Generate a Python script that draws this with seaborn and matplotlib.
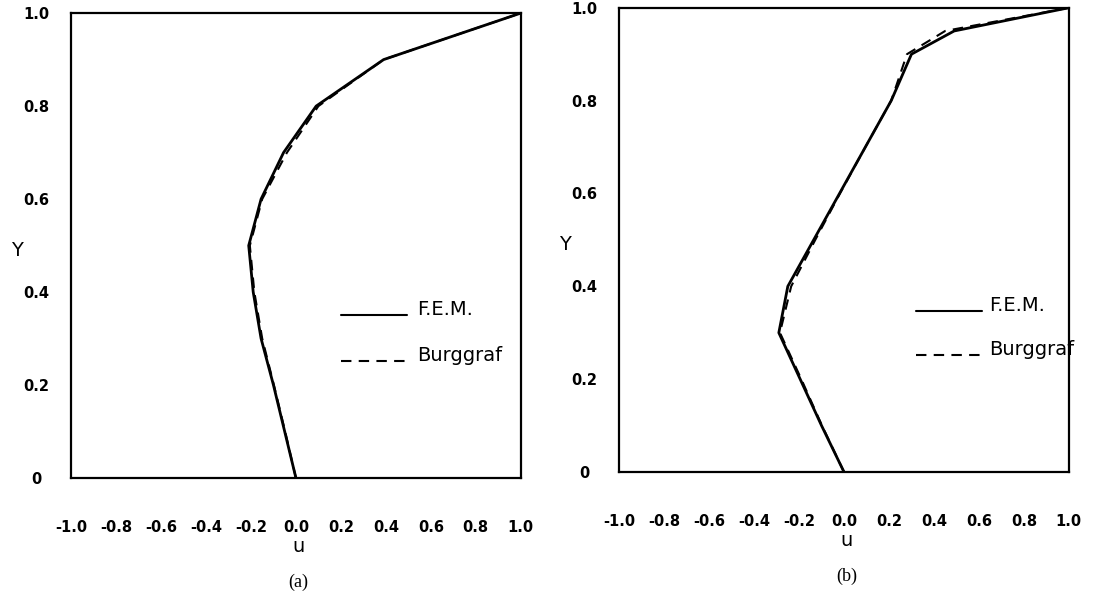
import matplotlib
matplotlib.use("Agg")
import matplotlib.pyplot as plt
import numpy as np
import pandas as pd
import seaborn as sns

# Centreline u-velocity profiles of the driven cavity
y_a = [0.0, 0.1, 0.2, 0.3, 0.4, 0.5, 0.6, 0.7, 0.8, 0.9, 1.0]
fem_a = [0.0, -0.05, -0.10, -0.155, -0.19, -0.21, -0.155, -0.055, 0.09, 0.39, 1.0]
burg_a = [0.0, -0.048, -0.098, -0.15, -0.185, -0.205, -0.15, -0.04, 0.10, 0.39, 1.0]

y_b = [0.0, 0.1, 0.2, 0.3, 0.4, 0.5, 0.6, 0.7, 0.8, 0.9, 0.95, 1.0]
fem_b = [0.0, -0.10, -0.195, -0.29, -0.25, -0.135, -0.02, 0.095, 0.21, 0.30, 0.49, 1.0]
burg_b = [0.0, -0.098, -0.19, -0.285, -0.235, -0.128, -0.018, 0.095, 0.21, 0.28, 0.45, 1.0]

x_ticks = [-1.0, -0.8, -0.6, -0.4, -0.2, 0.0, 0.2, 0.4, 0.6, 0.8, 1.0]
x_tick_labels = ["-1.0", "-0.8", "-0.6", "-0.4", "-0.2", "0.0", "0.2", "0.4", "0.6", "0.8", "1.0"]
y_ticks = [0.0, 0.2, 0.4, 0.6, 0.8, 1.0]
y_tick_labels = ["0", "0.2", "0.4", "0.6", "0.8", "1.0"]

methods = ["F.E.M.", "Burggraf"]
captions = ["(a)", "(b)"]

sns.set_theme(style="white")
plt.rcParams["font.family"] = ["DejaVu Sans"]
plt.rcParams["axes.unicode_minus"] = False
plt.rcParams["text.color"] = "black"
plt.rcParams["xtick.color"] = "black"
plt.rcParams["ytick.color"] = "black"

fig = plt.figure(figsize=(10.94, 5.96), dpi=100)
ax_a = fig.add_axes([0.065, 0.198, 0.411, 0.780])
ax_b = fig.add_axes([0.566, 0.208, 0.411, 0.779])

panels = [
    (ax_a, y_a, fem_a, burg_a, dict(line=(0.601, 0.748), text_x=0.769, rows=(0.351, 0.252))),
    (ax_b, y_b, fem_b, burg_b, dict(line=(0.659, 0.806), text_x=0.822, rows=(0.347, 0.253))),
]

for (ax, ys, fem, burg, key), cap in zip(panels, captions):
    df = pd.concat([
        pd.DataFrame({"u": fem, "Y": ys, "method": methods[0]}),
        pd.DataFrame({"u": burg, "Y": ys, "method": methods[1]}),
    ], ignore_index=True)

    sns.lineplot(data=df[df.method == methods[0]], x="u", y="Y", sort=False,
                 estimator=None, color="black", linewidth=2.0, ax=ax)
    sns.lineplot(data=df[df.method == methods[1]], x="u", y="Y", sort=False,
                 estimator=None, color="black", linewidth=1.5, ax=ax,
                 dashes=False, linestyle=(0, (5, 3.5)))

    ax.set_xlim(-1.0, 1.0)
    ax.set_ylim(0.0, 1.0)
    ax.set_xticks(x_ticks)
    ax.set_xticklabels(x_tick_labels, fontsize=10.5, fontweight="bold")
    ax.set_yticks(y_ticks)
    ax.set_yticklabels(y_tick_labels, fontsize=10.5, fontweight="bold")
    for lbl in ax.get_yticklabels():
        lbl.set_horizontalalignment("center")
    ax.tick_params(axis="x", length=0, pad=30, colors="black")
    ax.tick_params(axis="y", length=0, pad=25, colors="black")
    ax.set_xlabel("")
    ax.set_ylabel("")
    for sp in ax.spines.values():
        sp.set_visible(True)
        sp.set_color("black")
        sp.set_linewidth(1.6)

    # axis titles and panel caption
    ax.text(-0.12, 0.49, "Y", transform=ax.transAxes, fontsize=14,
            ha="center", va="center", color="black")
    ax.text(0.505, -0.147, "u", transform=ax.transAxes, fontsize=14,
            ha="center", va="center", color="black")
    ax.text(0.505, -0.225, cap, transform=ax.transAxes, fontsize=13,
            family="Liberation Serif", ha="center", va="center", color="black")

    # key: sample line with its label sitting on the same baseline
    x0, x1 = key["line"]
    styles = ["-", (0, (5, 3.5))]
    for name, row, ls in zip(methods, key["rows"], styles):
        ax.plot([x0, x1], [row, row], transform=ax.transAxes, color="black",
                linewidth=1.5, linestyle=ls, clip_on=False)
        ax.text(key["text_x"], row, name, transform=ax.transAxes, fontsize=14,
                ha="left", va="baseline", clip_on=False, color="black")

fig.savefig("out.png", dpi=100, facecolor="white")
